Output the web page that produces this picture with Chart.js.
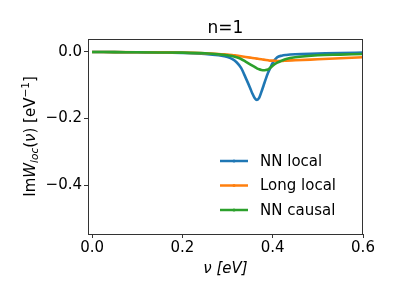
<!DOCTYPE html>
<html>
<head>
<meta charset="utf-8">
<script src="https://cdn.jsdelivr.net/npm/chart.js@4.4.0/dist/chart.umd.min.js"></script>
<style>
    html, body { margin: 0; padding: 0; background: #fff; }
    #wrap { width: 395px; height: 296px; }
</style>
</head>
<body>
<div id="wrap"><canvas id="chart1" width="395" height="296"></canvas></div>
<script>
// datos
const nu = [0, 0.05, 0.1, 0.15, 0.2, 0.25, 0.28, 0.3, 0.31, 0.32, 0.33, 0.34, 0.35, 0.355, 0.36,
    0.365, 0.37, 0.375, 0.38, 0.385, 0.39, 0.395, 0.4, 0.41, 0.42, 0.43, 0.45, 0.5, 0.55, 0.6];
const nnLocal = [0, -0.0005, -0.001, -0.0015, -0.003, -0.006, -0.010, -0.015, -0.021, -0.031, -0.048, -0.077, -0.108, -0.125, -0.138,
    -0.144, -0.138, -0.120, -0.100, -0.080, -0.062, -0.047, -0.033, -0.016, -0.011, -0.009, -0.007, -0.005, -0.003, -0.002];
const longLocal = [0, -0.0003, -0.0007, -0.0012, -0.002, -0.004, -0.006, -0.008, -0.009, -0.011, -0.013, -0.015, -0.017, -0.018, -0.019,
    -0.020, -0.021, -0.022, -0.023, -0.024, -0.025, -0.026, -0.026, -0.027, -0.027, -0.026, -0.025, -0.022, -0.019, -0.016];
const nnCausal = [0, -0.0005, -0.001, -0.0015, -0.002, -0.004, -0.007, -0.010, -0.012, -0.016, -0.021, -0.029, -0.037, -0.041, -0.045,
    -0.049, -0.052, -0.054, -0.055, -0.054, -0.052, -0.047, -0.041, -0.032, -0.026, -0.021, -0.016, -0.010, -0.008, -0.006];
const seriesNames = ['NN local', 'Long local', 'NN causal'];
const xTicks = [0, 0.2, 0.4, 0.6];
const yTicks = [0, -0.2, -0.4];

const fontFam = "'DejaVu Sans', sans-serif";
const colores = ['#1f77b4', '#ff7f0e', '#2ca02c'];

function puntos(ys) {
    return nu.map((x, i) => { return { x: x, y: ys[i] } });
}

function fmt(v) {
    return v.toFixed(1).replace('-', '\u2212');
}

// marco, titulo, etiquetas de ejes y leyenda
const decoraciones = {
    id: 'decoraciones',
    afterDraw(chart) {
        const ctx = chart.ctx;
        const a = chart.chartArea;
        ctx.save();
        ctx.strokeStyle = '#333';
        ctx.lineWidth = 1;
        ctx.strokeRect(a.left + 0.5, a.top + 0.5, a.right - a.left - 1, a.bottom - a.top);

        ctx.fillStyle = '#000';
        ctx.textAlign = 'center';
        ctx.textBaseline = 'alphabetic';
        ctx.font = '17px ' + fontFam;
        ctx.fillText('n=1', (a.left + a.right) / 2, 33);

        ctx.font = 'italic 15px ' + fontFam;
        ctx.fillText('\u03bd [eV]', (a.left + a.right) / 2, 273);

        // etiqueta eje y con subindice y superindice
        const partes = [
            { t: 'Im', f: '15px ', dy: 0 },
            { t: 'W', f: 'italic 15px ', dy: 0 },
            { t: 'loc', f: 'italic 10.5px ', dy: 3 },
            { t: '(', f: '15px ', dy: 0 },
            { t: '\u03bd', f: 'italic 15px ', dy: 0 },
            { t: ') [eV', f: '15px ', dy: 0 },
            { t: '\u22121', f: '10.5px ', dy: -6 },
            { t: ']', f: '15px ', dy: 0 }
        ];
        let total = 0;
        partes.forEach((p) => { ctx.font = p.f + fontFam; p.w = ctx.measureText(p.t).width; total += p.w; });
        ctx.translate(35, (a.top + a.bottom) / 2 + 0);
        ctx.rotate(-Math.PI / 2);
        ctx.textAlign = 'left';
        let u = -total / 2;
        partes.forEach((p) => {
            ctx.font = p.f + fontFam;
            ctx.fillText(p.t, u, p.dy);
            u += p.w;
        });
        ctx.setTransform(1, 0, 0, 1, 0, 0);

        // leyenda
        const filas = [161, 185.5, 210];
        ctx.font = '15px ' + fontFam;
        ctx.textBaseline = 'middle';
        seriesNames.forEach((nombre, i) => {
            const y = filas[i];
            ctx.strokeStyle = colores[i];
            ctx.lineWidth = 2.5;
            ctx.beginPath();
            ctx.moveTo(220, y);
            ctx.lineTo(248, y);
            ctx.stroke();
            ctx.fillStyle = colores[i];
            ctx.beginPath();
            ctx.arc(234, y, 1.5, 0, Math.PI * 2);
            ctx.fill();
            ctx.fillStyle = '#000';
            ctx.fillText(nombre, 260, y + 1);
        });
        ctx.restore();
    }
};

const data = {
    datasets: [
        { label: seriesNames[0], data: puntos(nnLocal), borderColor: colores[0], order: 3 },
        { label: seriesNames[1], data: puntos(longLocal), borderColor: colores[1], order: 2 },
        { label: seriesNames[2], data: puntos(nnCausal), borderColor: colores[2], order: 1 }
    ]
};

const config = {
    type: 'line',
    data: data,
    options: {
        responsive: false,
        animation: false,
        layout: { padding: { top: 39, right: 32, bottom: 0, left: 0 } },
        elements: {
            point: { radius: 0 },
            line: { borderWidth: 2.6, cubicInterpolationMode: 'monotone', fill: false }
        },
        plugins: {
            legend: { display: false },
            tooltip: { enabled: false },
            title: { display: false }
        },
        scales: {
            x: {
                type: 'linear',
                min: -0.009,
                max: 0.6,
                afterFit: (s) => { s.height = 62; },
                afterBuildTicks: (s) => { s.ticks = xTicks.map((v) => { return { value: v } }); },
                grid: { drawOnChartArea: false, drawTicks: true, tickLength: 4, color: '#333' },
                border: { display: true, color: '#333' },
                ticks: {
                    padding: 1,
                    color: '#000',
                    font: { family: fontFam, size: 15 },
                    maxRotation: 0,
                    callback: (v) => fmt(v)
                }
            },
            y: {
                min: -0.547,
                max: 0.039,
                afterFit: (s) => { s.width = 88; },
                afterBuildTicks: (s) => { s.ticks = yTicks.map((v) => { return { value: v } }); },
                grid: { drawOnChartArea: false, drawTicks: true, tickLength: 4, color: '#333' },
                border: { display: true, color: '#333' },
                ticks: {
                    padding: 2,
                    color: '#000',
                    font: { family: fontFam, size: 15 },
                    callback: (v) => fmt(v)
                }
            }
        }
    },
    plugins: [decoraciones]
};

const canva = document.getElementById('chart1');
const grafico = new Chart(canva, config);
</script>
</body>
</html>
